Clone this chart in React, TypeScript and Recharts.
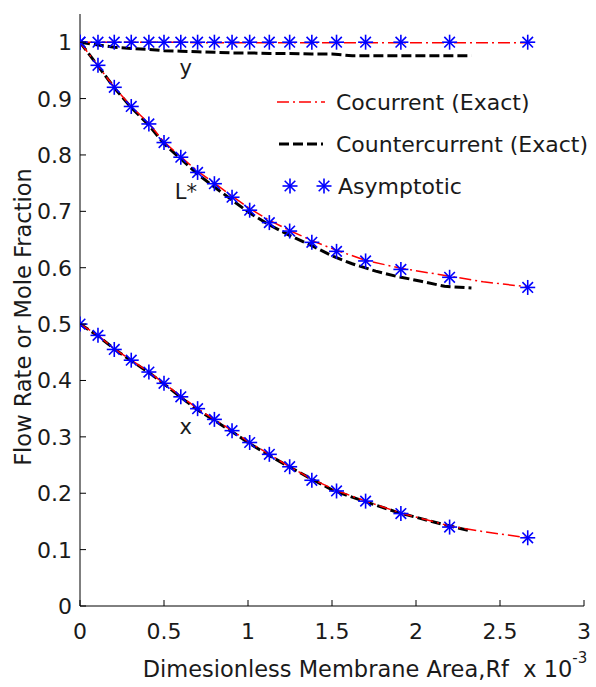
import React from 'react';
import { ComposedChart, Line, Scatter, XAxis, YAxis, ReferenceDot } from 'recharts';

// Dimensionless membrane area (x 10^-3) at which the asymptotic solution is marked
const areaAsym = [0, 0.107, 0.204, 0.305, 0.41, 0.5, 0.6, 0.7, 0.8, 0.905, 1.01, 1.127, 1.248, 1.38, 1.527, 1.7, 1.91, 2.2, 2.665];
const asymVapor = [1, 1, 1, 1, 1, 1, 1, 1, 1, 1, 1, 1, 1, 1, 1, 1, 1, 1, 1];
const asymFlow = [1.0, 0.959, 0.92, 0.886, 0.855, 0.822, 0.796, 0.769, 0.749, 0.725, 0.702, 0.68, 0.665, 0.645, 0.629, 0.612, 0.597, 0.583, 0.565];
const asymLiquid = [0.5, 0.48, 0.455, 0.436, 0.415, 0.395, 0.371, 0.35, 0.331, 0.311, 0.29, 0.269, 0.247, 0.223, 0.204, 0.186, 0.164, 0.14, 0.121];

// Cocurrent (exact)
const areaCo = [0, 0.107, 0.204, 0.305, 0.41, 0.5, 0.6, 0.7, 0.8, 0.905, 1.01, 1.127, 1.248, 1.38, 1.527, 1.7, 1.91, 2.2, 2.4, 2.665];
const coVapor = [1, 1, 1, 1, 1, 1, 1, 0.999, 0.999, 0.999, 0.999, 0.999, 0.999, 0.999, 0.999, 0.999, 0.999, 0.999, 0.999, 0.999];
const coFlow = [1.0, 0.958, 0.92, 0.886, 0.856, 0.823, 0.797, 0.771, 0.75, 0.727, 0.705, 0.684, 0.666, 0.648, 0.631, 0.613, 0.599, 0.585, 0.575, 0.566];
const coLiquid = [0.5, 0.48, 0.456, 0.436, 0.415, 0.395, 0.372, 0.35, 0.331, 0.311, 0.29, 0.269, 0.247, 0.225, 0.205, 0.186, 0.165, 0.142, 0.132, 0.121];

// Countercurrent (exact)
const areaCounter = [0, 0.107, 0.204, 0.305, 0.41, 0.5, 0.6, 0.7, 0.8, 0.905, 1.01, 1.127, 1.25, 1.38, 1.5, 1.62, 1.76, 1.88, 2.03, 2.17, 2.33];
const counterVapor = [1, 0.995, 0.991, 0.989, 0.987, 0.985, 0.984, 0.983, 0.982, 0.981, 0.981, 0.98, 0.98, 0.979, 0.979, 0.976, 0.976, 0.976, 0.976, 0.976, 0.976];
const counterFlow = [1.0, 0.958, 0.919, 0.884, 0.853, 0.82, 0.793, 0.766, 0.743, 0.72, 0.697, 0.676, 0.657, 0.639, 0.621, 0.607, 0.594, 0.585, 0.576, 0.567, 0.564];
const counterLiquid = [0.5, 0.479, 0.456, 0.435, 0.414, 0.394, 0.37, 0.348, 0.329, 0.309, 0.288, 0.267, 0.246, 0.225, 0.206, 0.193, 0.179, 0.167, 0.155, 0.144, 0.133];

const xTicks = [0, 0.5, 1, 1.5, 2, 2.5, 3];
const yTicks = [0, 0.1, 0.2, 0.3, 0.4, 0.5, 0.6, 0.7, 0.8, 0.9, 1];

const curveLabels = [
  { text: 'y', x: 0.63, y: 0.955 },
  { text: 'L*', x: 0.63, y: 0.735 },
  { text: 'x', x: 0.63, y: 0.318 },
];

const toRows = (xs: number[], ys: number[]) => xs.map((x, i) => ({ x, y: ys[i] }));

const FONT = 'DejaVu Sans';
const TICK_FS = 22;
const RED_DASH = '12 4 2 4';
const BLACK_DASH = '10 4';
const TEXT_COLOR = '#1a1a1a';

const Star = (props: any) => {
  const { cx, cy } = props;
  if (cx == null || cy == null) return null;
  const r = 7.5;
  const d = 5.3;
  return (
    <g stroke="#0000ff" strokeWidth={1.6}>
      <line x1={cx - r} y1={cy} x2={cx + r} y2={cy} />
      <line x1={cx} y1={cy - r} x2={cx} y2={cy + r} />
      <line x1={cx - d} y1={cy - d} x2={cx + d} y2={cy + d} />
      <line x1={cx - d} y1={cy + d} x2={cx + d} y2={cy - d} />
    </g>
  );
};

const BottomTick = (props: any) => {
  const { x, y, payload } = props;
  return (
    <g>
      <line x1={x} y1={y} x2={x} y2={y - 6} stroke="#000" strokeWidth={1} />
      <text x={x} y={y + 33} textAnchor="middle" fontFamily={FONT} fontSize={TICK_FS} fill={TEXT_COLOR}>
        {String(payload.value)}
      </text>
    </g>
  );
};

const LeftTick = (props: any) => {
  const { x, y, payload } = props;
  return (
    <g>
      <line x1={x} y1={y} x2={x + 6} y2={y} stroke="#000" strokeWidth={1} />
      <text x={x - 8} y={y + 8} textAnchor="end" fontFamily={FONT} fontSize={TICK_FS} fill={TEXT_COLOR}>
        {String(payload.value)}
      </text>
    </g>
  );
};

const TopTick = (props: any) => {
  const { x, y } = props;
  return <line x1={x} y1={y} x2={x} y2={y + 6} stroke="#000" strokeWidth={1} />;
};

const RightTick = (props: any) => {
  const { x, y } = props;
  return <line x1={x} y1={y} x2={x - 6} y2={y} stroke="#000" strokeWidth={1} />;
};

const CurveLabel = (text: string) => (props: any) => {
  const { cx, cy } = props;
  return (
    <text x={cx} y={cy} textAnchor="middle" dominantBaseline="central" fontFamily={FONT} fontSize={21} fill={TEXT_COLOR}>
      {text}
    </text>
  );
};

const Legend = () => (
  <svg width={596} height={687} style={{ position: 'absolute', left: 0, top: 0, pointerEvents: 'none' }}>
    <g fontFamily={FONT} fontSize={22} fill={TEXT_COLOR}>
      <line x1={277} y1={102} x2={325} y2={102} stroke="#ff0000" strokeWidth={1.5} strokeDasharray={RED_DASH} />
      <text x={336} y={110}>Cocurrent (Exact)</text>
      <line x1={279} y1={144} x2={323} y2={144} stroke="#000" strokeWidth={3} strokeDasharray={BLACK_DASH} />
      <text x={336} y={152}>Countercurrent (Exact)</text>
      <Star cx={290} cy={186} />
      <Star cx={324} cy={186} />
      <text x={338} y={194}>Asymptotic</text>
    </g>
    <text
      x={23}
      y={317}
      transform="rotate(-90 23 317)"
      textAnchor="middle"
      dominantBaseline="central"
      fontFamily={FONT}
      fontSize={22.5}
      fill={TEXT_COLOR}
    >
      Flow Rate or Mole Fraction
    </text>
    <text x={365} y={677} textAnchor="middle" fontFamily={FONT} fontSize={22.5} fill={TEXT_COLOR}>
      {'Dimesionless Membrane Area,Rf\u00a0\u00a0x 10'}
      <tspan fontSize={15} dy={-14}>-3</tspan>
    </text>
  </svg>
);

export default function App() {
  return (
    <div style={{ position: 'absolute', left: 0, top: 0, width: 596, height: 687, background: '#fff' }}>
      <ComposedChart width={596} height={687} margin={{ top: 14, right: 12, bottom: 0, left: 0 }}>
        <XAxis
          xAxisId={0}
          dataKey="x"
          type="number"
          domain={[0, 3]}
          ticks={xTicks}
          allowDataOverflow
          height={81}
          tickSize={0}
          tickMargin={0}
          tickLine={false}
          interval={0}
          axisLine={{ stroke: '#000', strokeWidth: 1 }}
          tick={<BottomTick />}
        />
        <XAxis
          xAxisId="top"
          orientation="top"
          type="number"
          domain={[0, 3]}
          ticks={xTicks}
          allowDataOverflow
          height={0}
          tickSize={0}
          tickMargin={0}
          tickLine={false}
          interval={0}
          axisLine={{ stroke: '#000', strokeWidth: 1 }}
          tick={<TopTick />}
        />
        <YAxis
          yAxisId={0}
          type="number"
          domain={[0, 1.05]}
          ticks={yTicks}
          allowDataOverflow
          width={80}
          tickSize={0}
          tickMargin={0}
          tickLine={false}
          interval={0}
          axisLine={{ stroke: '#000', strokeWidth: 1 }}
          tick={<LeftTick />}
        />
        <YAxis
          yAxisId="right"
          orientation="right"
          type="number"
          domain={[0, 1.05]}
          ticks={yTicks}
          allowDataOverflow
          width={0}
          tickSize={0}
          tickMargin={0}
          tickLine={false}
          interval={0}
          axisLine={{ stroke: '#000', strokeWidth: 1 }}
          tick={<RightTick />}
        />

        <Line data={toRows(areaCounter, counterVapor)} dataKey="y" stroke="#000" strokeWidth={3} strokeDasharray={BLACK_DASH} dot={false} isAnimationActive={false} type="linear" />
        <Line data={toRows(areaCounter, counterFlow)} dataKey="y" stroke="#000" strokeWidth={3} strokeDasharray={BLACK_DASH} dot={false} isAnimationActive={false} type="linear" />
        <Line data={toRows(areaCounter, counterLiquid)} dataKey="y" stroke="#000" strokeWidth={3} strokeDasharray={BLACK_DASH} dot={false} isAnimationActive={false} type="linear" />

        <Scatter data={toRows(areaAsym, asymVapor)} dataKey="y" shape={<Star />} isAnimationActive={false} />
        <Scatter data={toRows(areaAsym, asymFlow)} dataKey="y" shape={<Star />} isAnimationActive={false} />
        <Scatter data={toRows(areaAsym, asymLiquid)} dataKey="y" shape={<Star />} isAnimationActive={false} />

        <Line data={toRows(areaCo, coVapor)} dataKey="y" stroke="#ff0000" strokeWidth={1.5} strokeDasharray={RED_DASH} dot={false} isAnimationActive={false} type="linear" />
        <Line data={toRows(areaCo, coFlow)} dataKey="y" stroke="#ff0000" strokeWidth={1.5} strokeDasharray={RED_DASH} dot={false} isAnimationActive={false} type="linear" />
        <Line data={toRows(areaCo, coLiquid)} dataKey="y" stroke="#ff0000" strokeWidth={1.5} strokeDasharray={RED_DASH} dot={false} isAnimationActive={false} type="linear" />

        {curveLabels.map((c) => (
          <ReferenceDot key={c.text} x={c.x} y={c.y} r={0} shape={CurveLabel(c.text)} ifOverflow="visible" />
        ))}
      </ComposedChart>
      <Legend />
    </div>
  );
}
